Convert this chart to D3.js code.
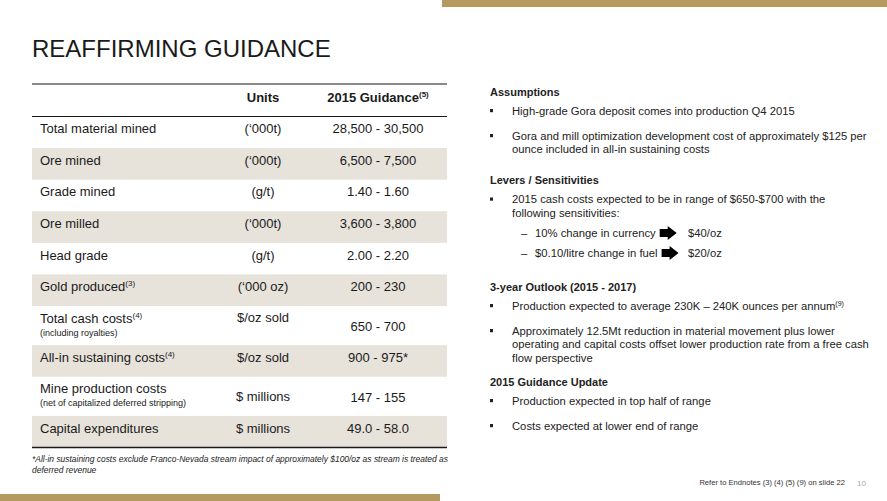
<!DOCTYPE html>
<html>
<head>
<meta charset="utf-8">
<script src="https://cdn.jsdelivr.net/npm/d3@7"></script>
<style>
  body { margin: 0; background: #fff; }
  svg { display: block; }
  text { font-family: "Liberation Sans", Arial, sans-serif; }
</style>
</head>
<body>
<div id="chart"></div>
<script>
// table data
const rowLabels = ["Total material mined", "Ore mined", "Grade mined", "Ore milled", "Head grade",
  "Gold produced", "Total cash costs", "All-in sustaining costs", "Mine production costs", "Capital expenditures"];
const rowNotes = ["", "", "", "", "", "(3)", "(4)", "(4)", "", ""];
const rowSubLabels = ["", "", "", "", "", "", "(including royalties)", "", "(net of capitalized deferred stripping)", ""];
const rowUnits = ["(\u2018000t)", "(\u2018000t)", "(g/t)", "(\u2018000t)", "(g/t)", "(\u2018000 oz)",
  "$/oz sold", "$/oz sold", "$ millions", "$ millions"];
const rowGuidance = ["28,500 - 30,500", "6,500 - 7,500", "1.40 - 1.60", "3,600 - 3,800", "2.00 - 2.20",
  "200 - 230", "650 - 700", "900 - 975*", "147 - 155", "49.0 - 58.0"];
const headerUnits = "Units";
const headerGuidance = "2015 Guidance";
const headerGuidanceNote = "(5)";
const tableFootnote = ["*All-in sustaining costs exclude Franco-Nevada stream impact of approximately $100/oz as stream is treated as",
  "deferred revenue"];

// right panel text
const sectionHeads = ["Assumptions", "Levers / Sensitivities", "3-year Outlook (2015 - 2017)", "2015 Guidance Update"];
const sectionBullets = [
  [["High-grade Gora deposit comes into production Q4 2015"],
   ["Gora and mill optimization development cost of approximately $125 per", "ounce included in all-in sustaining costs"]],
  [["2015 cash costs expected to be in range of $650-$700 with the", "following sensitivities:"]],
  [["Production expected to average 230K \u2013 240K ounces per annum"],
   ["Approximately 12.5Mt reduction in material movement plus lower",
    "operating and capital costs offset lower production rate from a free cash",
    "flow perspective"]],
  [["Production expected in top half of range"], ["Costs expected at lower end of range"]]
];
const bulletNotes = [["", ""], [""], ["(9)", ""], ["", ""]];
const sensitivityLabels = ["10% change in currency", "$0.10/litre change in fuel"];
const sensitivityValues = ["$40/oz", "$20/oz"];
const footerText = "Refer to Endnotes (3) (4) (5) (9) on slide 22";
const pageNumber = "10";
const title = "REAFFIRMING GUIDANCE";

const width = 887, height = 501;
const gold = "#b49a5f", shade = "#e7e3db", ink = "#1a1a1a";

const svg = d3.select("#chart").append("svg")
  .attr("width", width).attr("height", height);

// gold bars
svg.append("rect").attr("x", 442).attr("y", 0).attr("width", width - 442).attr("height", 7).attr("fill", gold);
svg.append("rect").attr("x", 0).attr("y", 494).attr("width", 440).attr("height", 7).attr("fill", gold);

svg.append("text").attr("x", 32).attr("y", 57)
  .attr("font-size", 24).attr("fill", ink).text(title);

// ---- table ----
const rows = rowLabels.map((d, i) => ({
  label: d, note: rowNotes[i], sub: rowSubLabels[i], units: rowUnits[i], guide: rowGuidance[i]
}));
const unitOf = d => d.sub ? 1.24 : 1;
let acc = 0;
rows.forEach(d => { d.start = acc; acc += unitOf(d); d.end = acc; });

const tableLeft = 32, tableRight = 447;
const y = d3.scaleLinear().domain([0, acc]).range([116.5, 447.5]);
const col = d3.scaleOrdinal().domain(["label", "units", "guide"]).range([40, 263, 378]);

const table = svg.append("g");

table.selectAll("rect.shade")
  .data(rows.filter((d, i) => i % 2 === 1))
  .join("rect")
  .attr("class", "shade")
  .attr("x", tableLeft).attr("width", tableRight - tableLeft)
  .attr("y", d => y(d.start)).attr("height", d => y(d.end) - y(d.start))
  .attr("fill", shade);

// rule lines
table.append("line").attr("x1", tableLeft).attr("x2", tableRight).attr("y1", 84).attr("y2", 84)
  .attr("stroke", "#8a8a8a").attr("stroke-width", 2);
table.append("line").attr("x1", tableLeft).attr("x2", tableRight).attr("y1", y(0)).attr("y2", y(0))
  .attr("stroke", ink).attr("stroke-width", 1.2);
table.append("line").attr("x1", tableLeft).attr("x2", tableRight).attr("y1", y(acc)).attr("y2", y(acc))
  .attr("stroke", ink).attr("stroke-width", 1.5);

// header
table.append("text").attr("x", col("units")).attr("y", 101.5)
  .attr("text-anchor", "middle").attr("font-size", 13).attr("font-weight", "bold").attr("fill", ink)
  .text(headerUnits);
const hg = table.append("text").attr("x", col("guide")).attr("y", 101.5)
  .attr("text-anchor", "middle").attr("font-size", 13).attr("font-weight", "bold").attr("fill", ink);
hg.append("tspan").text(headerGuidance);
hg.append("tspan").attr("dy", -5).attr("font-size", 8).text(headerGuidanceNote);

// units aligned with the first label line in this row
const topAlignedUnits = new Set(["Total cash costs"]);

const rowG = table.selectAll("g.row").data(rows).join("g").attr("class", "row")
  .attr("fill", ink)
  .attr("transform", d => `translate(0,${(y(d.start) + y(d.end)) / 2})`);

rowG.each(function (d) {
  const g = d3.select(this);
  const tall = !!d.sub;
  const lab = g.append("text").attr("x", col("label")).attr("y", tall ? -3 : 1).attr("font-size", 13);
  lab.append("tspan").text(d.label);
  if (d.note) lab.append("tspan").attr("dy", -5).attr("font-size", 8).text(d.note);
  if (tall) {
    g.append("text").attr("x", col("label")).attr("y", 10).attr("font-size", 9).text(d.sub);
  }
  g.append("text").attr("x", col("units"))
    .attr("y", tall ? (topAlignedUnits.has(d.label) ? -4 : 5) : 1)
    .attr("text-anchor", "middle").attr("font-size", 13).text(d.units);
  g.append("text").attr("x", col("guide")).attr("y", tall ? 5.5 : 1)
    .attr("text-anchor", "middle").attr("font-size", 13).text(d.guide);
});

table.selectAll("text.foot").data(tableFootnote).join("text")
  .attr("class", "foot")
  .attr("x", tableLeft).attr("y", (d, i) => 462 + i * 11)
  .attr("font-size", 8.45).attr("font-style", "italic").attr("fill", ink)
  .text(d => d);

// ---- right panel ----
const panel = svg.append("g").attr("fill", "#222");
const headX = 490, bulletX = 490, textX = 512;
const fs = 11.25, lineH = 13.8;
const headY = [95.5, 184, 290.5, 385.5];

sectionHeads.forEach((h, s) => {
  panel.append("text").attr("x", headX).attr("y", headY[s])
    .attr("font-size", 11).attr("font-weight", "bold").text(h);
  let cy = headY[s] + 19;
  sectionBullets[s].forEach((lines, b) => {
    panel.append("rect").attr("x", bulletX).attr("y", cy - 5.5).attr("width", 3).attr("height", 3.2);
    lines.forEach((ln, k) => {
      const t = panel.append("text").attr("x", textX).attr("y", cy + k * lineH).attr("font-size", fs);
      t.append("tspan").text(ln);
      if (k === 0 && bulletNotes[s][b]) t.append("tspan").attr("dy", -4).attr("font-size", 7).text(bulletNotes[s][b]);
    });
    cy += (lines.length - 1) * lineH + 25;
  });
  if (s === 1) {
    // sensitivities with arrows
    sensitivityLabels.forEach((lab, k) => {
      const by = 237 + k * 20;
      panel.append("text").attr("x", 521).attr("y", by).attr("font-size", fs).text("\u2013");
      const t = panel.append("text").attr("x", 535).attr("y", by).attr("font-size", fs).text(lab);
      const x0 = 535 + t.node().getComputedTextLength() + 4, cyA = by - 4;
      const arrow = d3.path();
      arrow.moveTo(x0, cyA - 4); arrow.lineTo(x0 + 8, cyA - 4); arrow.lineTo(x0 + 8, cyA - 7);
      arrow.lineTo(x0 + 17, cyA); arrow.lineTo(x0 + 8, cyA + 7); arrow.lineTo(x0 + 8, cyA + 4);
      arrow.lineTo(x0, cyA + 4); arrow.closePath();
      panel.append("path").attr("d", arrow.toString()).attr("fill", "#000");
      panel.append("text").attr("x", 688).attr("y", by).attr("font-size", fs).text(sensitivityValues[k]);
    });
  }
});

// footer
svg.append("text").attr("x", 845).attr("y", 485).attr("text-anchor", "end")
  .attr("font-size", 7.6).attr("fill", "#333").text(footerText);
svg.append("text").attr("x", 857).attr("y", 485.5)
  .attr("font-size", 8).attr("fill", "#aaa").text(pageNumber);
</script>
</body>
</html>
